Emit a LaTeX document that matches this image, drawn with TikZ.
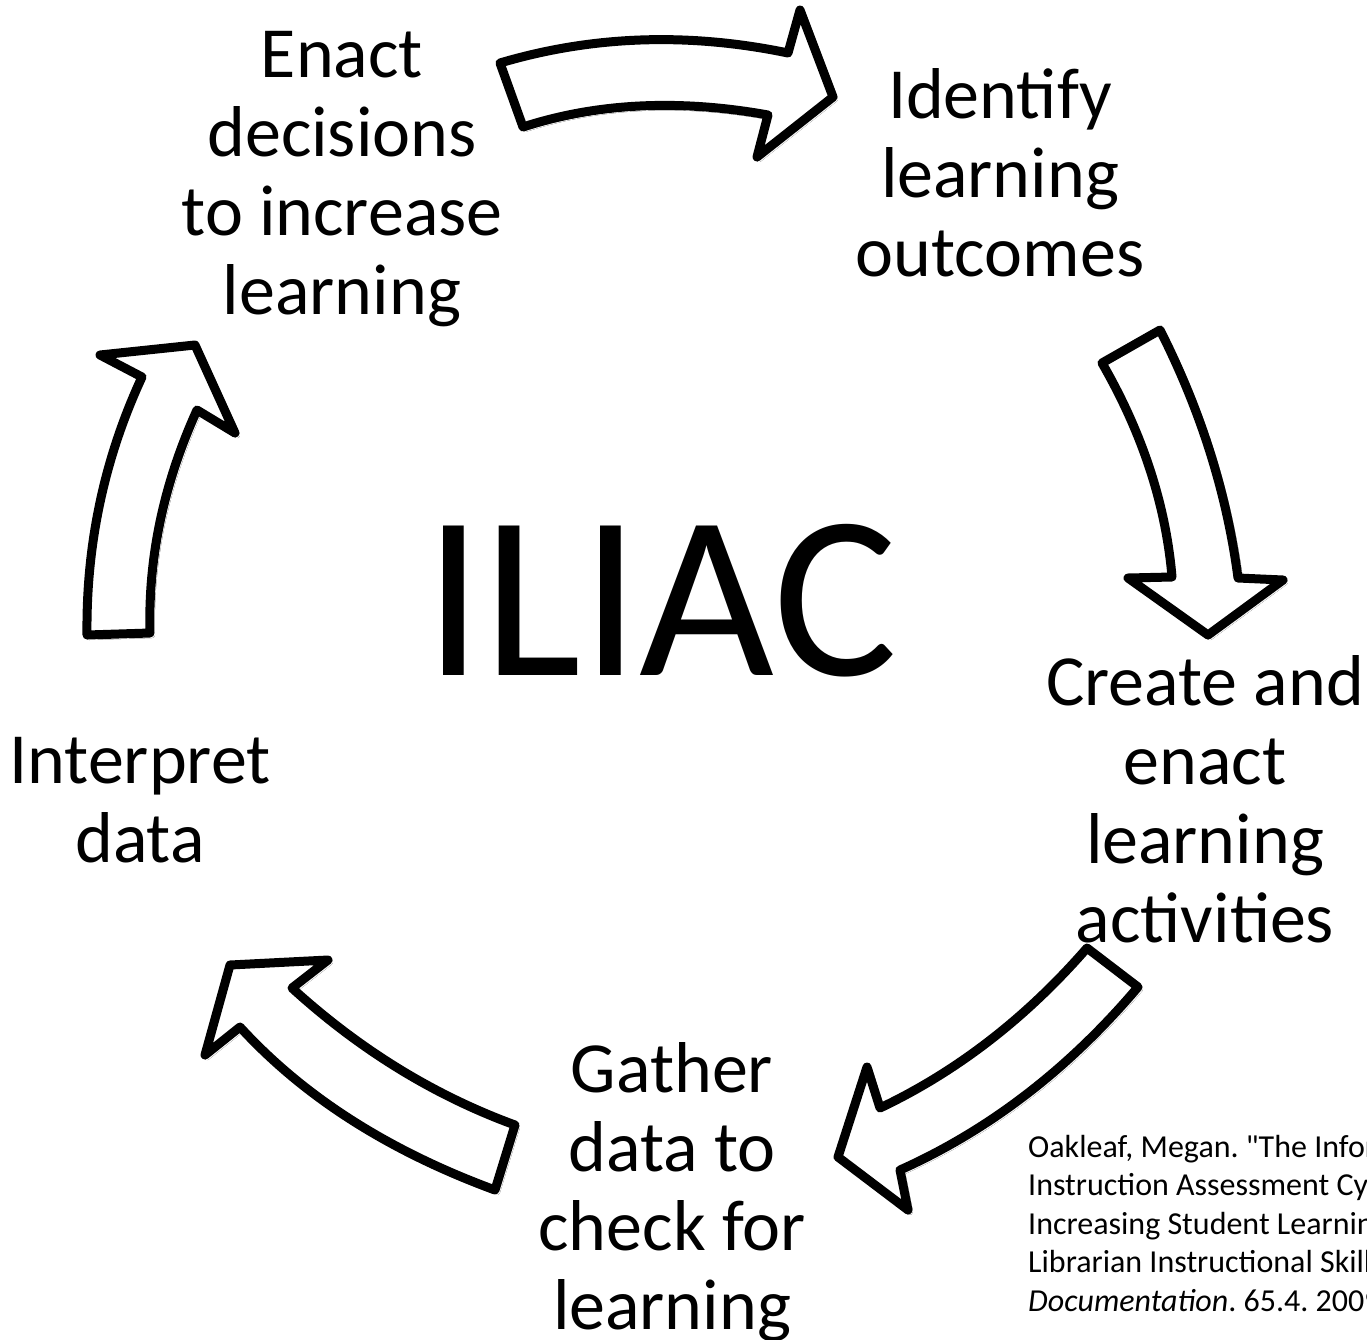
\documentclass[tikz,border=0pt]{standalone}
\usepackage{fontspec}
\setmainfont{Carlito}
\newfontfamily\citefont{Carlito}[Ligatures=TeXOff]
\usetikzlibrary{shadows.blur}
\frenchspacing
\begin{document}
\begin{tikzpicture}[x=1pt,y=-1pt,
  bigarrow/.style={draw=black, line width=9pt, fill=white, line join=round,
    blur shadow={shadow xshift=2pt, shadow yshift=-2pt, shadow blur radius=3pt, shadow opacity=35}},
  lbl/.style={inner sep=0pt, anchor=base, font=\fontsize{72}{79}\selectfont},
  cite/.style={inner sep=0pt, anchor=base west, font=\citefont\fontsize{32}{38.5}\selectfont\frenchspacing}]
\clip (0,0) rectangle (1367,1339);
\fill[white] (0,0) rectangle (1367,1339);

% arrows
\draw[bigarrow] (500,63) -- (523,127) .. controls (597,103) and (679,99) .. (768,115)
  -- (757,157) -- (833,97) -- (800,10) -- (788,53)
  .. controls (687,32) and (591,36) .. (500,63) -- cycle;
\draw[bigarrow] (1102,363) -- (1160,330) .. controls (1201,411) and (1227,494) .. (1238,578)
  -- (1283,580) -- (1208,635) -- (1128,578) -- (1172,577)
  .. controls (1166,506) and (1143,434) .. (1102,363) -- cycle;
\draw[bigarrow] (1087,948) -- (1138,987) .. controls (1067,1071) and (987,1131) .. (900,1170)
  -- (908,1210) -- (838,1157) -- (867,1067) -- (880,1108)
  .. controls (958,1071) and (1027,1017) .. (1087,948) -- cycle;
\draw[bigarrow] (515,1125) -- (495,1190) .. controls (389,1151) and (304,1097) .. (240,1027)
  -- (205,1055) -- (230,965) -- (328,960) -- (292,988)
  .. controls (359,1049) and (433,1095) .. (515,1125) -- cycle;
\draw[bigarrow] (87,635) -- (150,633) .. controls (148,559) and (163,485) .. (197,410)
  -- (235,433) -- (195,345) -- (100,355) -- (142,377)
  .. controls (104,459) and (86,545) .. (87,635) -- cycle;

% labels
\node[lbl] (enact) at (342,77) {\begin{tabular}[t]{@{}c@{}}Enact\\decisions\\to increase\\learning\end{tabular}};
\node[lbl] (identify) at (1000,118) {\begin{tabular}[t]{@{}c@{}}Identify\\learning\\outcomes\end{tabular}};
\node[lbl] (create) at (1205,705) {\begin{tabular}[t]{@{}c@{}}Create and\\enact\\learning\\activities\end{tabular}};
\node[lbl] (gather) at (672,1092) {\begin{tabular}[t]{@{}c@{}}Gather\\data to\\check for\\learning\end{tabular}};
\node[lbl] (interpret) at (140,783) {\begin{tabular}[t]{@{}c@{}}Interpret\\data\end{tabular}};
\node[inner sep=0pt, anchor=base, font=\fontsize{233}{280}\selectfont] (iliac) at (661,675) {ILIAC};
\node[cite] (cite) at (1028,1157) {\begin{tabular}[t]{@{}l@{}}Oakleaf, Megan. "The Information Literacy\\Instruction Assessment Cycle: A Guide for\\Increasing Student Learning and Improving\\Librarian Instructional Skills." {\itshape Journal of}\\{\itshape Documentation}. 65.4. 2009.\end{tabular}};
\end{tikzpicture}
\end{document}
